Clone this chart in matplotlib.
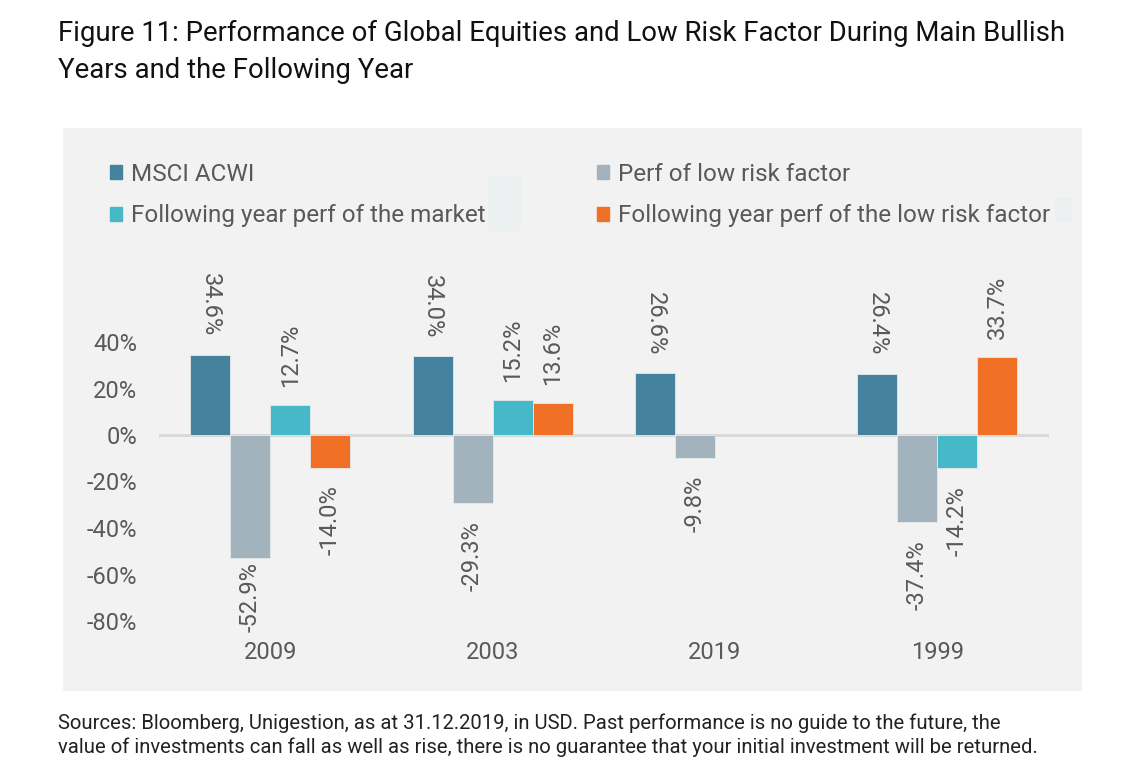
import matplotlib.pyplot as plt
from matplotlib.patches import Rectangle
import numpy as np

plt.rcParams['font.family'] = ['Roboto', 'DejaVu Sans']

# data
years = ['2009', '2003', '2019', '1999']
msci_acwi = [34.6, 34.0, 26.6, 26.4]
low_risk = [-52.9, -29.3, -9.8, -37.4]
next_market = [12.7, 15.2, np.nan, -14.2]
next_low_risk = [-14.0, 13.6, np.nan, 33.7]

series_names = ['MSCI ACWI', 'Perf of low risk factor',
                'Following year perf of the market',
                'Following year perf of the low risk factor']
series = [msci_acwi, low_risk, next_market, next_low_risk]
colors = ['#44829e', '#a3b3bd', '#46b8c8', '#f07025']
# excel turned the first series' labels the other way round
rotations = [270, 90, 90, 90]

txt_col = '#595959'

fig = plt.figure(figsize=(11.42, 7.76), dpi=100)

# grey panel behind the chart
fig.patches.append(Rectangle((63 / 1142, 1 - 691 / 776), (1082 - 63) / 1142, (691 - 128) / 776,
                             transform=fig.transFigure, facecolor='#f2f2f2', edgecolor='none', zorder=-2))
# faint leftover boxes next to the legend
fig.patches.append(Rectangle((488 / 1142, 1 - 231 / 776), 33 / 1142, 55 / 776,
                             transform=fig.transFigure, facecolor='#ecf0f0', edgecolor='none', zorder=-1))
fig.patches.append(Rectangle((1055 / 1142, 1 - 222 / 776), 17 / 1142, 24 / 776,
                             transform=fig.transFigure, facecolor='#ecf0f0', edgecolor='none', zorder=-1))

ax = fig.add_axes([159 / 1142, 1 - 621 / 776, 889.5 / 1142, 279 / 776])
ax.set_zorder(2)
ax.set_facecolor('none')

x = np.arange(len(years))
w = 0.18
for i, (vals, name, col, rot) in enumerate(zip(series, series_names, colors, rotations)):
    pos = x + (i - 1.5) * w
    ax.bar(pos, vals, width=w, color=col, edgecolor='#e4e8ea', linewidth=0.6, label=name, zorder=2)
    for px, v in zip(pos, vals):
        if np.isnan(v):
            continue
        if v >= 0:
            off, va = 13, 'bottom'
        else:
            off, va = -13, 'top'
            if v < -45:
                off = -3
        ax.annotate(f'{v:.1f}%', (px, v), xytext=(0, off), textcoords='offset points',
                    rotation=rot, ha='center', va=va, fontsize=17, color=txt_col,
                    annotation_clip=False)

ax.axhline(0, color='#d9d9d9', linewidth=2.2, zorder=1)
ax.set_xlim(-0.5, 3.5)
ax.set_ylim(-80, 40)
ax.set_yticks(range(-80, 41, 20))
ax.set_yticklabels([f'{t}%' for t in range(-80, 41, 20)])
ax.set_xticks(x)
ax.set_xticklabels(years)
ax.tick_params(axis='y', length=0, pad=15.5, labelsize=17, labelcolor=txt_col)
ax.tick_params(axis='x', length=0, pad=14.5, labelsize=17, labelcolor=txt_col)
for s in ax.spines.values():
    s.set_visible(False)

handles = [Rectangle((0, 0), 1, 1, color=c) for c in colors]
order = [0, 2, 1, 3]
fig.legend([handles[k] for k in order], [series_names[k] for k in order],
           ncol=2, loc='upper left', bbox_to_anchor=(110 / 1142, 1 - 163 / 776),
           frameon=False, fontsize=17.5, labelcolor=txt_col,
           handlelength=0.5, handleheight=0.5, handletextpad=0.35,
           columnspacing=4.6, labelspacing=0.75, borderaxespad=0, borderpad=0)

fig.text(58 / 1142, 1 - 20 / 776,
         'Figure 11: Performance of Global Equities and Low Risk Factor During Main Bullish\n'
         'Years and the Following Year',
         fontsize=19.8, color='#111111', va='top', ha='left', linespacing=1.45)

fig.text(58 / 1142, 1 - 713 / 776,
         'Sources: Bloomberg, Unigestion, as at 31.12.2019, in USD. Past performance is no guide to the future, the\n'
         'value of investments can fall as well as rise, there is no guarantee that your initial investment will be returned.',
         fontsize=14.6, color='#222222', va='top', ha='left', linespacing=1.35)

fig.savefig('out.png', dpi=100)
